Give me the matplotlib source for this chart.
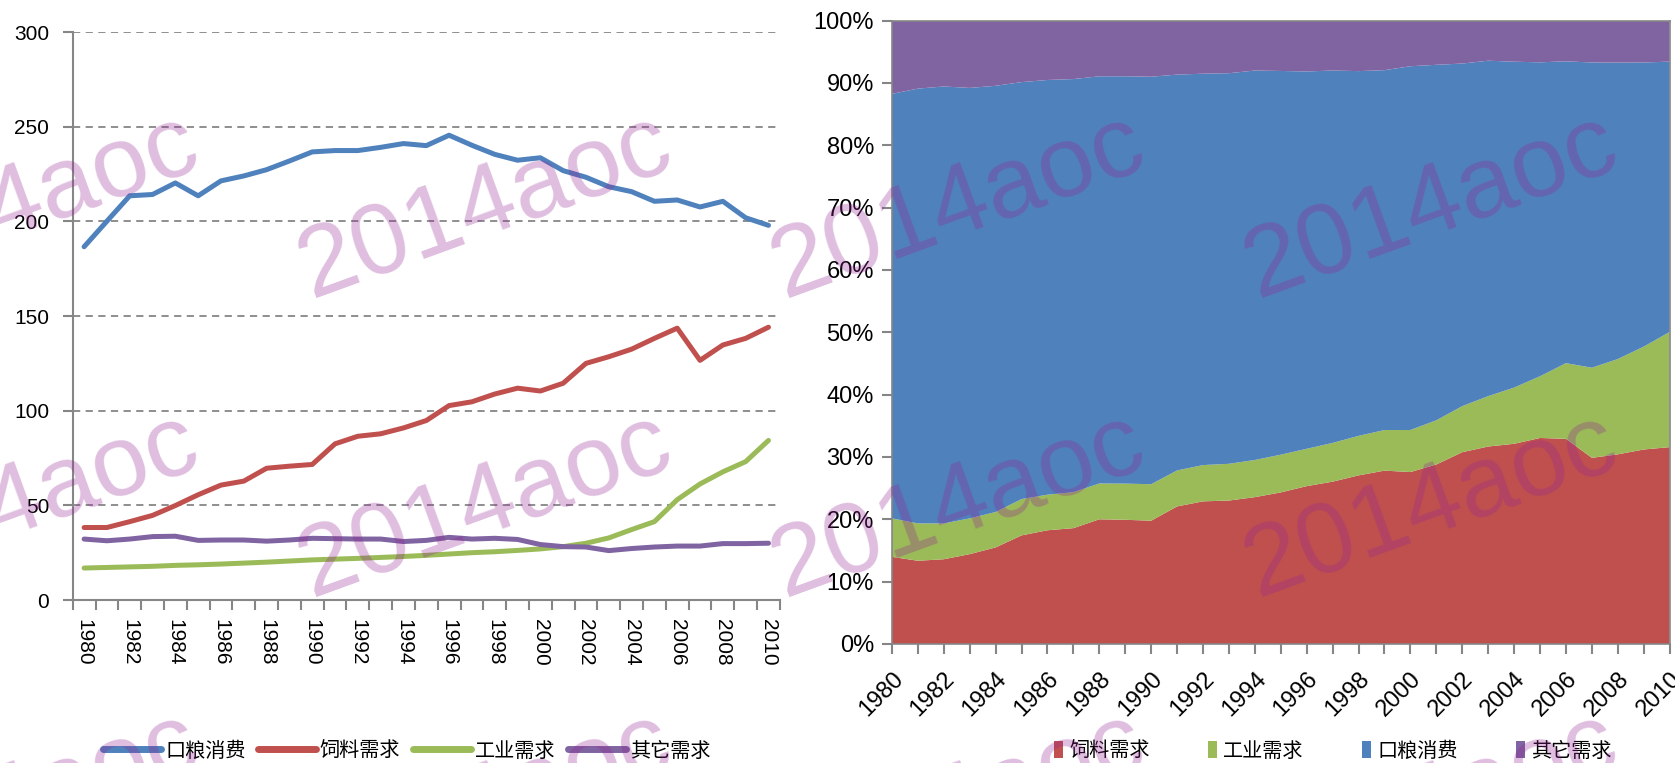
import matplotlib.pyplot as plt
import numpy as np
from matplotlib.ticker import PercentFormatter
from matplotlib.lines import Line2D
from matplotlib.patches import Patch

# --- data ---
years = np.arange(1980, 2011)
food = [186.6, 200.1, 213.5, 214.2, 220.3, 213.5, 221.4, 224.0, 227.3, 231.9, 236.7,
        237.4, 237.4, 239.1, 241.1, 240.0, 245.5, 240.2, 235.4, 232.3, 233.6,
        226.8, 223.3, 218.3, 215.7, 210.6, 211.3, 207.6, 210.6, 201.9, 197.9]
feed = [38.3, 38.3, 41.4, 44.7, 49.9, 55.6, 60.7, 62.8, 69.6, 70.7, 71.6,
        82.5, 86.5, 87.8, 90.9, 94.8, 102.7, 104.7, 108.8, 111.9, 110.4,
        114.5, 125.0, 128.5, 132.5, 138.2, 143.6, 126.6, 134.7, 138.2, 144.1]
industry = [16.9, 17.2, 17.5, 17.8, 18.3, 18.6, 19.0, 19.5, 20.0, 20.6, 21.2,
            21.6, 22.0, 22.5, 23.0, 23.6, 24.3, 25.0, 25.5, 26.2, 27.0,
            28.2, 30.0, 32.8, 37.2, 41.4, 53.0, 61.3, 67.7, 73.1, 84.3]
other = [32.2, 31.3, 32.2, 33.5, 33.7, 31.5, 31.7, 31.7, 31.1, 31.7, 32.6,
         32.4, 32.2, 32.2, 30.9, 31.5, 33.1, 32.2, 32.6, 32.0, 29.3,
         28.2, 28.0, 26.1, 27.2, 28.0, 28.5, 28.5, 29.8, 29.8, 30.0]

names = {'food': '口粮消费', 'feed': '饲料需求', 'industry': '工业需求', 'other': '其它需求'}
colors = {'food': '#4F81BD', 'feed': '#C0504D', 'industry': '#9BBB59', 'other': '#8064A2'}

GREY = '#868686'
NUM_FONT = ['Liberation Sans', 'DejaVu Sans']
NARROW_FONT = ['Liberation Sans Narrow', 'Liberation Sans', 'DejaVu Sans']
CJK_FONT = ['Noto Sans CJK SC', 'DejaVu Sans']

fig = plt.figure(figsize=(16.75, 7.63), dpi=100)

# ==========================================
# 1. LINE CHART (left)
# ==========================================
ax1 = fig.add_axes([0.0434, 0.2136, 0.4222, 0.7444])
x = np.arange(len(years))
series = {'food': food, 'feed': feed, 'industry': industry, 'other': other}
for key in ['food', 'feed', 'industry', 'other']:
    ax1.plot(x, series[key], color=colors[key], lw=3.6, solid_capstyle='round',
             solid_joinstyle='round')

ax1.set_xlim(-0.5, len(years) - 0.5)
ax1.set_ylim(0, 300)
ax1.set_yticks(range(0, 301, 50))
ax1.yaxis.grid(True, ls=(0, (4, 3)), color=GREY, lw=1.3)
ax1.set_axisbelow(True)
for s in ['top', 'right']:
    ax1.spines[s].set_visible(False)
for s in ['left', 'bottom']:
    ax1.spines[s].set_color(GREY)
    ax1.spines[s].set_linewidth(1.5)

# ticks between categories, labels every 2 years
ax1.set_xticks(np.arange(-0.5, len(years), 1))
ax1.set_xticklabels([])
ax1.set_xticks(x[::2], minor=True)
ax1.set_xticklabels([str(y) for y in years[::2]], minor=True, rotation=-90,
                    fontsize=15, family=NUM_FONT)
ax1.tick_params(axis='x', which='major', length=7, color=GREY, width=1.5)
ax1.tick_params(axis='x', which='minor', length=0, pad=14)
ax1.tick_params(axis='y', length=7, color=GREY, width=1.5, pad=10)
for lab in ax1.get_yticklabels():
    lab.set_fontsize(15)
    lab.set_family(NUM_FONT)

# ==========================================
# 2. 100% STACKED AREA (right)
# ==========================================
ax2 = fig.add_axes([0.5325, 0.156, 0.4643, 0.817])
total = np.array(food) + np.array(feed) + np.array(industry) + np.array(other)
order = ['feed', 'industry', 'food', 'other']
shares = [np.array(series[k]) / total for k in order]
ax2.stackplot(years, shares, colors=[colors[k] for k in order], lw=0)

ax2.set_xlim(years[0], years[-1])
ax2.set_ylim(0, 1)
ax2.set_yticks(np.arange(0, 1.01, 0.1))
ax2.yaxis.set_major_formatter(PercentFormatter(1.0, decimals=0))
for s in ax2.spines.values():
    s.set_color(GREY)
    s.set_linewidth(1.2)
ax2.set_xticks(years)
ax2.set_xticklabels([str(y) if y % 2 == 0 else '' for y in years], rotation=45,
                    ha='right', rotation_mode='anchor', fontsize=17, family=NARROW_FONT)
ax2.tick_params(axis='x', length=7, color=GREY, width=1.5, pad=10)
ax2.tick_params(axis='y', length=7, color=GREY, width=1.5, pad=6)
for lab in ax2.get_yticklabels():
    lab.set_fontsize(17)
    lab.set_family(NARROW_FONT)

# ==========================================
# 3. LEGENDS
# ==========================================
h1 = [Line2D([0], [0], color=colors[k], lw=5, solid_capstyle='round')
      for k in ['food', 'feed', 'industry', 'other']]
fig.legend(h1, [names[k] for k in ['food', 'feed', 'industry', 'other']],
           loc='center', bbox_to_anchor=(0.2427, 0.0157), ncol=4, frameon=False,
           handlelength=2.9, handletextpad=0.2, columnspacing=0.6,
           prop={'family': CJK_FONT, 'size': 14.5})

h2 = [Patch(facecolor=colors[k], edgecolor='none') for k in order]
fig.legend(h2, [names[k] for k in order],
           loc='center', bbox_to_anchor=(0.7958, 0.0157), ncol=4, frameon=False,
           handlelength=0.45, handleheight=0.9, handletextpad=0.3, columnspacing=2.9,
           prop={'family': CJK_FONT, 'size': 14.5})

# ==========================================
# 4. WATERMARK
# ==========================================
W, H = 1675, 763
for cy in [-92, 207, 506, 805]:
    for cx in [12, 485, 958, 1431, 1904]:
        fig.text(cx / W, 1 - cy / H, '2014aoc', fontsize=73, family=NUM_FONT,
                 color=(148 / 255, 38 / 255, 148 / 255), alpha=0.3, rotation=20,
                 ha='center', va='center', zorder=10)

fig.savefig('out.png', dpi=100)
